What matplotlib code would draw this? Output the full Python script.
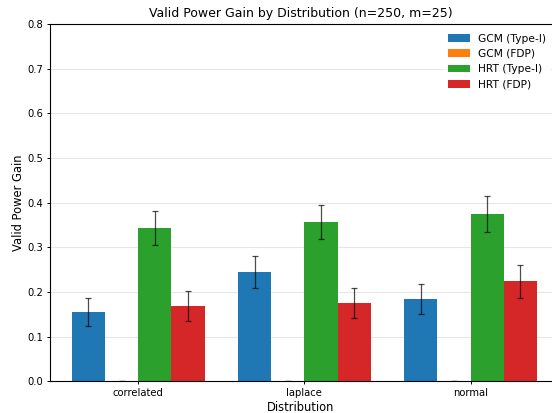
import numpy as np
import matplotlib
matplotlib.use("Agg")
import matplotlib.pyplot as plt

distributions = ["correlated", "laplace", "normal"]
series_names = ["GCM (Type-I)", "GCM (FDP)", "HRT (Type-I)", "HRT (FDP)"]
colors = ["#1f77b4", "#ff7f0e", "#2ca02c", "#d62728"]

gcm_type1 = [0.155, 0.244, 0.184]
gcm_type1_err = [0.032, 0.036, 0.034]
gcm_fdp = [0.0, 0.0, 0.0]
gcm_fdp_err = [0.0, 0.0, 0.0]
hrt_type1 = [0.343, 0.356, 0.374]
hrt_type1_err = [0.038, 0.038, 0.040]
hrt_fdp = [0.168, 0.175, 0.224]
hrt_fdp_err = [0.033, 0.034, 0.037]

values = [gcm_type1, gcm_fdp, hrt_type1, hrt_fdp]
errors = [gcm_type1_err, gcm_fdp_err, hrt_type1_err, hrt_fdp_err]

fig, ax = plt.subplots(figsize=(5.52, 4.13), dpi=100)
x = np.arange(len(distributions))
width = 0.2

for i, (name, vals, errs) in enumerate(zip(series_names, values, errors)):
    offset = (i - 1.5) * width
    ax.bar(x + offset, vals, width, yerr=errs, label=name, color=colors[i],
           capsize=2.5, error_kw={"elinewidth": 0.9, "ecolor": "black", "alpha": 0.7, "capthick": 0.9},
           zorder=2)

ax.set_xticks(x)
ax.set_xticklabels(distributions, fontsize=7.2)
ax.tick_params(axis="both", length=2.5, pad=2.5, width=0.7)
ax.tick_params(axis="y", labelsize=7.2)
ax.set_ylim(0, 0.8)
ax.set_xlim(-0.531, 2.49)
ax.spines["right"].set_visible(False)
ax.set_xlabel("Distribution", fontsize=8.3, labelpad=2)
ax.set_ylabel("Valid Power Gain", fontsize=8.3, labelpad=1.5)
ax.set_title("Valid Power Gain by Distribution (n=250, m=25)", fontsize=9, pad=5)
ax.grid(axis="y", alpha=0.3, zorder=0)
ax.set_axisbelow(True)
leg = ax.legend(loc="upper right", fontsize=7.7, frameon=True, bbox_to_anchor=(1.008, 1.0))
leg.get_frame().set_edgecolor("none")

plt.subplots_adjust(left=50 / 552, right=1.0, top=0.942, bottom=0.077)
plt.savefig("out.png", dpi=100)
